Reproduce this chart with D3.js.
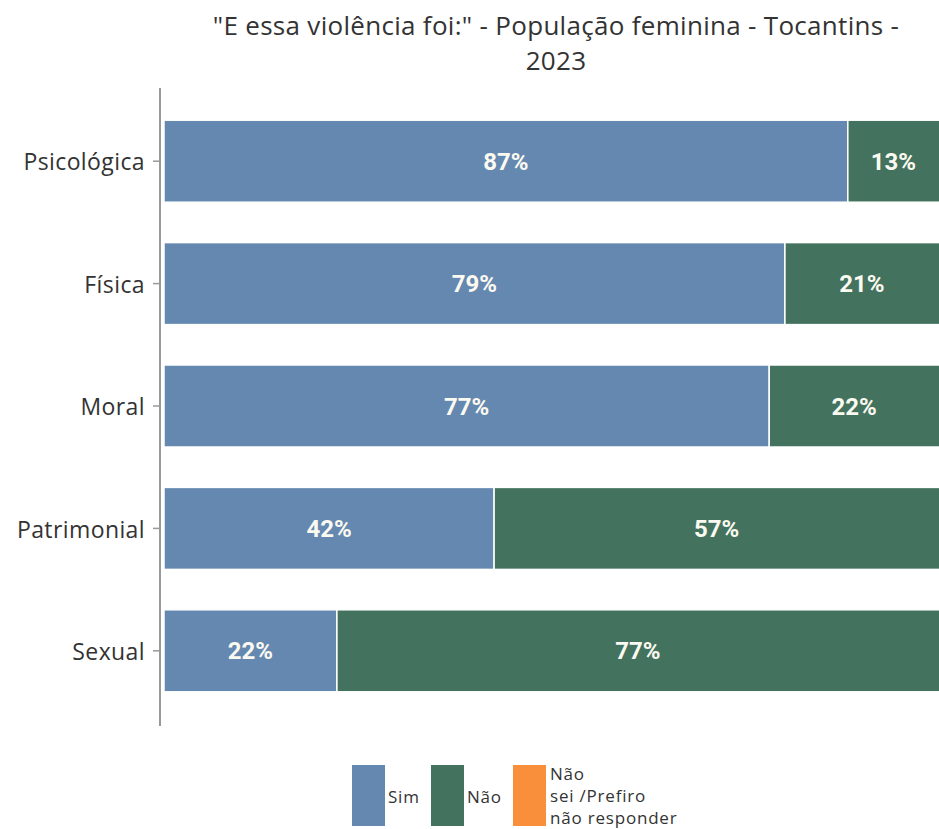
<!DOCTYPE html>
<html>
<head>
<meta charset="utf-8">
<script src="https://cdnjs.cloudflare.com/ajax/libs/d3/7.8.5/d3.min.js"></script>
<style>
  body { margin: 0; background: #fff; }
  svg { display: block; }
</style>
</head>
<body>
<div id="chart"></div>
<script>
// categories and series (share of answers)
var categories = ["Psicológica", "Física", "Moral", "Patrimonial", "Sexual"];
var seriesNames = ["Sim", "Não", "Não sei /Prefiro não responder"];
var sim = [0.87, 0.79, 0.77, 0.42, 0.22];
var nao = [0.13, 0.21, 0.22, 0.57, 0.77];
var naoSei = [0.00, 0.00, 0.01, 0.01, 0.01];

var colors = ["#6588B0", "#43725F", "#F98F3A"];

var width = 939, height = 829;

var svg = d3.select("#chart").append("svg")
    .attr("width", width)
    .attr("height", height);

// title, two lines
var title = svg.append("g")
    .attr("text-anchor", "middle")
    .style("font-family", "'Open Sans', sans-serif")
    .style("font-size", "26px")
    .style("letter-spacing", "0.3px")
    .style("fill", "#333");
title.append("text").attr("x", 556).attr("y", 35)
    .text("\"E essa violência foi:\" - População feminina - Tocantins -");
title.append("text").attr("x", 556).attr("y", 70).text("2023");

// scales
var x = d3.scaleLinear().domain([0, 1]).range([164, 950]);
var y = d3.scaleBand().domain(categories).range([100, 712]).paddingInner(0.33).paddingOuter(0.165);

// stack the series
var rows = categories.map(function(c, i) {
  return {cat: c, s0: sim[i], s1: nao[i], s2: naoSei[i]};
});
var stack = d3.stack().keys(["s0", "s1", "s2"]);
var layers = stack(rows);

var chart = svg.append("g");

layers.forEach(function(layer, k) {
  chart.selectAll(".bar" + k)
      .data(layer)
    .enter().append("rect")
      .attr("x", function(d) { return x(d[0]); })
      .attr("y", function(d) { return y(d.data.cat); })
      .attr("width", function(d) { return Math.max(0, x(d[1]) - x(d[0])); })
      .attr("height", y.bandwidth())
      .style("fill", colors[k])
      .style("stroke", "#fff")
      .style("stroke-width", 1.5);

  // value labels for the big segments
  chart.selectAll(".lab" + k)
      .data(layer.filter(function(d) { return d[1] - d[0] >= 0.05; }))
    .enter().append("text")
      .attr("x", function(d) { return (x(d[0]) + Math.min(x(d[1]), width)) / 2; })
      .attr("y", function(d) { return y(d.data.cat) + y.bandwidth() / 2; })
      .attr("dy", ".36em")
      .attr("text-anchor", "middle")
      .style("font-family", "'Roboto', sans-serif")
      .style("font-weight", "bold")
      .style("font-size", "24px")
      .style("fill", "#FBFAF0")
      .text(function(d) { return Math.round((d[1] - d[0]) * 100) + "%"; });
});

// y axis
var yAxis = svg.append("g")
    .attr("transform", "translate(160,0)")
    .call(d3.axisLeft(y).tickSize(7).tickPadding(8));
yAxis.select(".domain").remove();
yAxis.append("line")
    .attr("x1", 0).attr("x2", 0)
    .attr("y1", 88).attr("y2", 726)
    .style("stroke", "#999").style("stroke-width", 2);
yAxis.selectAll(".tick line").style("stroke", "#999").style("stroke-width", 1.5);
yAxis.selectAll(".tick text")
    .attr("dy", "0.4em")
    .style("font-family", "'Open Sans', 'Noto Sans', sans-serif")
    .style("font-size", "23px")
    .style("letter-spacing", "0.4px")
    .style("fill", "#333");

// legend
var legendX = [352, 431, 513];
var legend = svg.append("g");
seriesNames.forEach(function(name, k) {
  legend.append("rect")
      .attr("x", legendX[k]).attr("y", 765)
      .attr("width", 33).attr("height", 61)
      .style("fill", colors[k]);
});
var legendText = legend.append("g")
    .style("font-family", "'Open Sans', 'Noto Sans', sans-serif")
    .style("font-size", "17px")
    .style("letter-spacing", "0.8px")
    .style("fill", "#333");
legendText.append("text").attr("x", 388).attr("y", 803).text(seriesNames[0]);
legendText.append("text").attr("x", 467).attr("y", 803).text(seriesNames[1]);
var multi = legendText.append("text").attr("x", 550);
["Não", "sei /Prefiro", "não responder"].forEach(function(line, i) {
  multi.append("tspan").attr("x", 550).attr("y", 780 + i * 22).text(line);
});
</script>
</body>
</html>
